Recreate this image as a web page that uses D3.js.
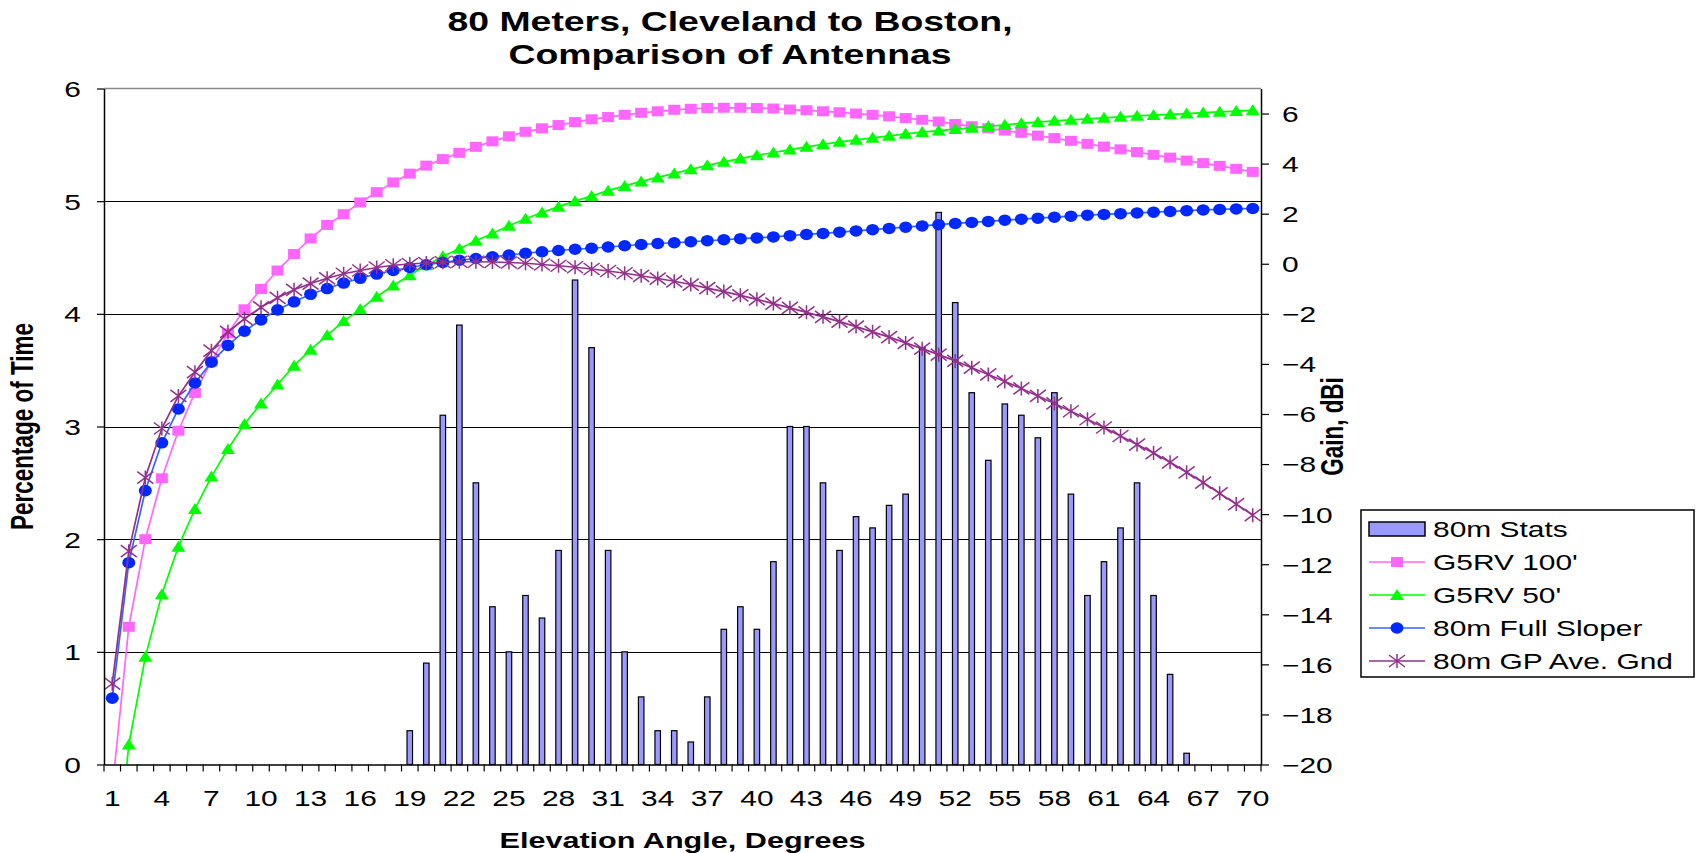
<!DOCTYPE html>
<html>
<head>
<meta charset="utf-8">
<script src="https://cdn.jsdelivr.net/npm/d3@7"></script>
<style>
  html, body { margin: 0; padding: 0; background: #fff; }
  svg { display: block; font-family: "Liberation Sans", Arial, sans-serif; }
</style>
</head>
<body>
<svg id="chart" width="1697" height="853"></svg>
<script>
// datos
const angulos = [1,2,3,4,5,6,7,8,9,10,11,12,13,14,15,16,17,18,19,20,21,22,23,24,25,26,27,28,29,30,
  31,32,33,34,35,36,37,38,39,40,41,42,43,44,45,46,47,48,49,50,51,52,53,54,55,56,57,58,59,60,
  61,62,63,64,65,66,67,68,69,70];

const stats80m = [0,0,0,0,0,0,0,0,0,0,0,0,0,0,0,0,0,0,0.3,0.9,3.1,3.9,2.5,1.4,1.0,1.5,1.3,1.9,4.3,3.7,
  1.9,1.0,0.6,0.3,0.3,0.2,0.6,1.2,1.4,1.2,1.8,3.0,3.0,2.5,1.9,2.2,2.1,2.3,2.4,3.7,
  4.9,4.1,3.3,2.7,3.2,3.1,2.9,3.3,2.4,1.5,1.8,2.1,2.5,1.5,0.8,0.1,0,0,0,0];

const g5rv100 = [-21,-14.5,-11.0,-8.57,-6.67,-5.16,-3.9,-2.78,-1.82,-1.01,-0.27,0.39,1.01,1.55,1.98,2.45,2.86,3.25,3.60,3.92,
  4.18,4.43,4.67,4.89,5.09,5.27,5.41,5.54,5.66,5.77,5.86,5.95,6.03,6.09,6.15,6.19,6.22,6.23,6.23,6.22,
  6.20,6.16,6.13,6.09,6.05,6.00,5.95,5.89,5.82,5.75,5.68,5.58,5.49,5.41,5.32,5.23,5.12,5.02,4.91,4.79,
  4.68,4.57,4.46,4.35,4.24,4.12,4.02,3.91,3.79,3.67];

const g5rv50 = [-26,-19.2,-15.7,-13.2,-11.3,-9.8,-8.5,-7.4,-6.4,-5.58,-4.82,-4.07,-3.43,-2.86,-2.29,-1.82,-1.32,-0.87,-0.46,-0.06,
  0.30,0.60,0.92,1.21,1.52,1.80,2.05,2.28,2.50,2.71,2.92,3.11,3.29,3.45,3.61,3.77,3.93,4.07,4.20,4.33,
  4.44,4.56,4.67,4.77,4.87,4.95,5.03,5.11,5.19,5.26,5.32,5.38,5.43,5.49,5.55,5.61,5.66,5.71,5.75,5.79,
  5.83,5.87,5.91,5.94,5.97,6.00,6.04,6.07,6.10,6.13];

const sloper = [-17.35,-11.94,-9.06,-7.15,-5.80,-4.76,-3.93,-3.26,-2.69,-2.24,-1.84,-1.52,-1.22,-0.99,-0.77,-0.58,-0.41,-0.27,-0.15,-0.04,
  0.05,0.14,0.21,0.28,0.35,0.42,0.48,0.53,0.58,0.62,0.67,0.72,0.77,0.81,0.84,0.88,0.92,0.96,1.00,1.03,
  1.07,1.12,1.17,1.21,1.26,1.31,1.36,1.41,1.46,1.51,1.56,1.61,1.65,1.69,1.74,1.78,1.82,1.86,1.90,1.94,
  1.97,2.00,2.03,2.06,2.09,2.12,2.15,2.17,2.19,2.21];

const gpAveGnd = [-16.77,-11.48,-8.54,-6.58,-5.28,-4.33,-3.47,-2.72,-2.20,-1.74,-1.36,-1.04,-0.79,-0.58,-0.40,-0.27,-0.15,-0.06,-0.01,0.03,
  0.06,0.08,0.08,0.07,0.05,0.02,-0.03,-0.08,-0.14,-0.21,-0.29,-0.38,-0.48,-0.59,-0.70,-0.83,-0.97,-1.11,-1.26,-1.42,
  -1.59,-1.76,-1.94,-2.12,-2.31,-2.51,-2.72,-2.93,-3.16,-3.39,-3.63,-3.88,-4.15,-4.42,-4.70,-4.98,-5.28,-5.58,-5.89,-6.21,
  -6.54,-6.88,-7.22,-7.56,-7.93,-8.33,-8.74,-9.17,-9.60,-10.04];

const nombresSeries = ["80m Stats", "G5RV 100'", "G5RV 50'", "80m Full Sloper", "80m GP Ave. Gnd"];

// geometria
const SX = 1.36; // estiramiento horizontal del texto
const pLeft = 104, pRight = 1261, pTop = 88.5, pBottom = 764.5;

const svg = d3.select("#chart");

const x = d3.scaleBand().domain(angulos).range([pLeft, pRight]).padding(0);
const yL = d3.scaleLinear().domain([0, 6]).range([pBottom, pTop]);
const yR = d3.scaleLinear().domain([-20, 7]).range([pBottom, pTop]);

function texto(g, px, py, str, size, weight, anchor, rot) {
  return g.append("text")
    .attr("transform", `translate(${px},${py}) scale(${SX},1)` + (rot ? ` rotate(${rot})` : ""))
    .attr("text-anchor", anchor)
    .style("font-size", size + "px")
    .style("font-weight", weight)
    .attr("fill", "#000")
    .text(str);
}

svg.append("defs").append("clipPath").attr("id", "area")
  .append("rect").attr("x", pLeft).attr("y", pTop).attr("width", pRight - pLeft).attr("height", pBottom - pTop);

// lineas de cuadricula
svg.append("g").selectAll("line")
  .data([1, 2, 3, 4, 5])
  .enter().append("line")
  .attr("x1", pLeft).attr("x2", pRight)
  .attr("y1", d => Math.round(yL(d)) + 0.5).attr("y2", d => Math.round(yL(d)) + 0.5)
  .attr("stroke", "#000").attr("stroke-width", 1.2);

svg.append("line")
  .attr("x1", pLeft).attr("x2", pRight).attr("y1", pTop).attr("y2", pTop)
  .attr("stroke", "#8a8a8a").attr("stroke-width", 1.5);

// barras
const barW = 5.5;
svg.append("g").selectAll("rect")
  .data(angulos.map((a, i) => ({ a, v: stats80m[i] })).filter(d => d.v > 0))
  .enter().append("rect")
  .attr("x", d => x(d.a) + x.bandwidth() / 2 - barW / 2)
  .attr("y", d => yL(d.v))
  .attr("width", barW)
  .attr("height", d => pBottom - yL(d.v))
  .attr("fill", "#9999ff")
  .attr("stroke", "#000")
  .attr("stroke-width", 1.2);

// series de linea (eje secundario)
const series = [
  { vals: g5rv100, line: "#ff66ff", mark: "square", color: "#ff66ff" },
  { vals: g5rv50, line: "#00ff00", mark: "triangle", color: "#00ff00" },
  { vals: sloper, line: "#3366ff", mark: "circle", color: "#0028ff" },
  { vals: gpAveGnd, line: "#93308c", mark: "star", color: "#93308c" }
];

const cx = a => x(a) + x.bandwidth() / 2;

function marcador(g, tipo, color) {
  if (tipo === "square") {
    g.append("rect").attr("x", -6).attr("y", -5).attr("width", 12).attr("height", 10).attr("fill", color);
  } else if (tipo === "triangle") {
    g.append("path").attr("d", "M0,-6L7,5L-7,5Z").attr("fill", color);
  } else if (tipo === "circle") {
    g.append("ellipse").attr("rx", 6.5).attr("ry", 5.8).attr("fill", color);
  } else {
    g.append("path").attr("d", "M-8,-6L8,6M-8,6L8,-6M0,-7L0,7")
      .attr("stroke", color).attr("stroke-width", 1.5).attr("fill", "none");
  }
}

const capa = svg.append("g").attr("clip-path", "url(#area)");
const linea = d3.line().x((d, i) => cx(angulos[i])).y(d => yR(d));

series.forEach(s => {
  capa.append("path")
    .datum(s.vals)
    .attr("d", linea)
    .attr("fill", "none")
    .attr("stroke", s.line)
    .attr("stroke-width", 1.7);

  capa.append("g").selectAll("g")
    .data(s.vals)
    .enter().append("g")
    .attr("transform", (d, i) => `translate(${cx(angulos[i])},${yR(d)})`)
    .each(function () { marcador(d3.select(this), s.mark, s.color); });
});

// eje izquierdo
const ejeY = svg.append("g")
  .attr("transform", `translate(${pLeft},0)`)
  .call(d3.axisLeft(yL).ticks(6).tickSize(7).tickSizeOuter(0).tickFormat(d3.format("d")));
ejeY.select(".domain").attr("stroke", "#000").attr("stroke-width", 1.5);
ejeY.selectAll(".tick line").attr("stroke", "#000").attr("stroke-width", 1.2);
ejeY.selectAll(".tick text")
  .attr("x", -23 / SX).attr("dy", "0.36em")
  .attr("transform", `scale(${SX},1)`)
  .style("font-size", "22px").attr("fill", "#000")
  .style("font-family", "'Liberation Sans', Arial, sans-serif");

// eje derecho
const ejeR = svg.append("g")
  .attr("transform", `translate(${pRight},0)`)
  .call(d3.axisRight(yR).tickValues(d3.range(-20, 7, 2)).tickSize(8).tickSizeOuter(0));
ejeR.select(".domain").attr("stroke", "#000").attr("stroke-width", 1.5);
ejeR.selectAll(".tick line").attr("stroke", "#000").attr("stroke-width", 1.2);
ejeR.selectAll(".tick text")
  .attr("x", 21 / SX).attr("dy", "0.36em")
  .attr("transform", `scale(${SX},1)`)
  .style("font-size", "22px").attr("fill", "#000")
  .style("font-family", "'Liberation Sans', Arial, sans-serif");

// eje inferior: marcas entre categorias, etiquetas cada 3
const ejeX = svg.append("g")
  .attr("transform", `translate(0,${pBottom})`)
  .call(d3.axisBottom(x).tickValues(angulos.filter(a => (a - 1) % 3 === 0)).tickSize(0).tickSizeOuter(0));
ejeX.select(".domain").attr("stroke", "#000").attr("stroke-width", 1.5);
ejeX.selectAll(".tick text")
  .attr("y", 0).attr("dy", 0)
  .attr("transform", `translate(0,41.5) scale(${SX},1)`)
  .style("font-size", "22px").attr("fill", "#000")
  .style("font-family", "'Liberation Sans', Arial, sans-serif");

svg.append("g").selectAll("line")
  .data(angulos.concat(["fin"]))
  .enter().append("line")
  .attr("x1", d => d === "fin" ? pRight : x(d))
  .attr("x2", d => d === "fin" ? pRight : x(d))
  .attr("y1", pBottom).attr("y2", pBottom + 7)
  .attr("stroke", "#000").attr("stroke-width", 1.2);

// titulos
const t = svg.append("g");
texto(t, 730, 31, "80 Meters, Cleveland to Boston,", 27.5, "bold", "middle");
texto(t, 730, 64, "Comparison of Antennas", 27.5, "bold", "middle");
texto(t, (pLeft + pRight) / 2, 848, "Elevation Angle, Degrees", 22.5, "bold", "middle");
texto(t, 33, (pTop + pBottom) / 2, "Percentage of Time", 22.5, "bold", "middle", -90);
texto(t, 1343, (pTop + pBottom) / 2, "Gain, dBi", 22.5, "bold", "middle", -90);

// leyenda
const leg = svg.append("g");
leg.append("rect")
  .attr("x", 1361).attr("y", 510).attr("width", 333).attr("height", 167)
  .attr("fill", "#fff").attr("stroke", "#000").attr("stroke-width", 1.5);

const filas = [529, 562, 595, 628, 661];
nombresSeries.forEach((nombre, i) => {
  const yy = filas[i];
  if (i === 0) {
    leg.append("rect").attr("x", 1369).attr("y", yy - 7).attr("width", 56).attr("height", 14)
      .attr("fill", "#9999ff").attr("stroke", "#000").attr("stroke-width", 1.5);
  } else {
    const s = series[i - 1];
    leg.append("line").attr("x1", 1369).attr("x2", 1425).attr("y1", yy).attr("y2", yy)
      .attr("stroke", s.line).attr("stroke-width", 1.7);
    const m = leg.append("g").attr("transform", `translate(1397,${yy})`);
    marcador(m, s.mark, s.color);
  }
  texto(leg, 1433, yy + 8, nombre, 22, "normal", "start");
});
</script>
</body>
</html>
